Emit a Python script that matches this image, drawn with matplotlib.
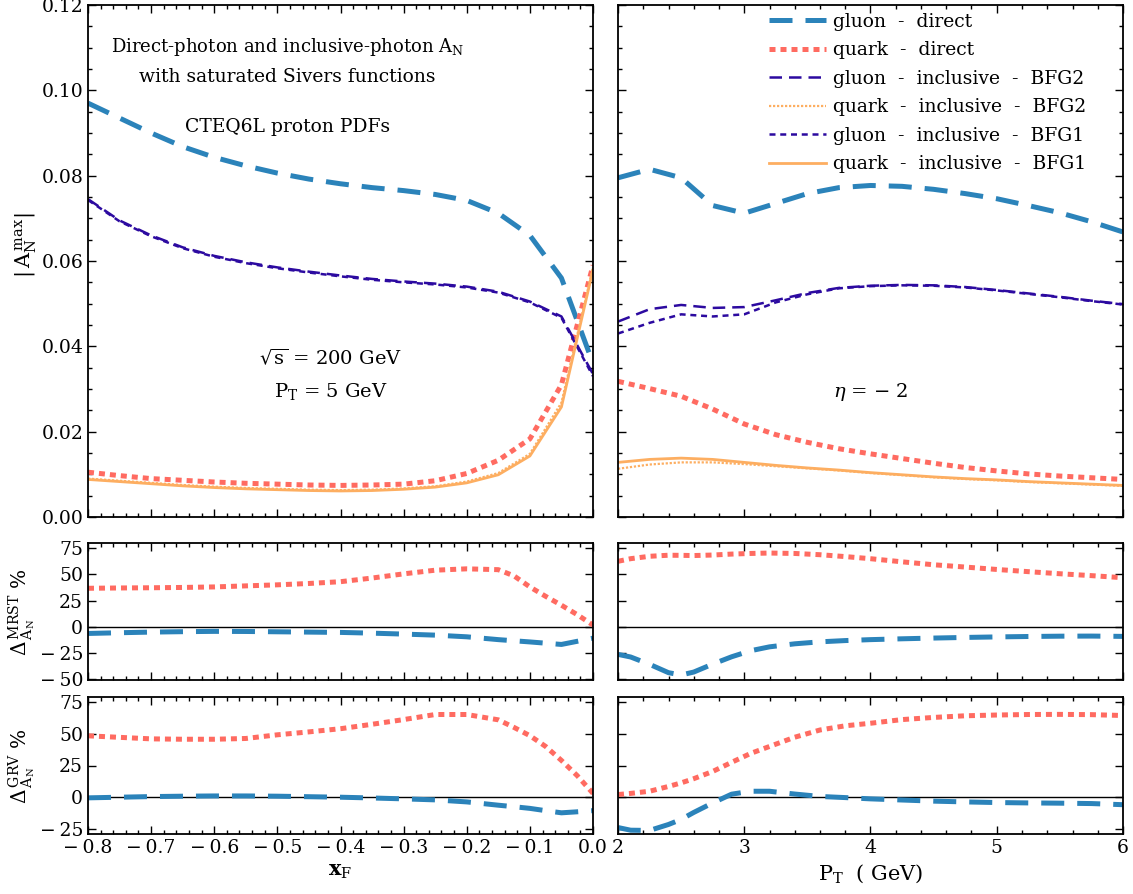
import numpy as np
import matplotlib
matplotlib.use("Agg")
import matplotlib.pyplot as plt
from matplotlib.ticker import MultipleLocator, FuncFormatter

plt.rcParams['font.family'] = ['DejaVu Serif']
plt.rcParams['mathtext.fontset'] = 'dejavuserif'
plt.rcParams['font.size'] = 13

# colours
c_gdir = '#2b83ba'
c_qdir = '#ff6b61'
c_ginc = '#2c0aa0'
c_qinc = '#fdae61'

# ---- top panels: |A_N^max| ----
xf = [-0.8, -0.75, -0.7, -0.65, -0.6, -0.55, -0.5, -0.45, -0.4, -0.35,
      -0.3, -0.25, -0.2, -0.15, -0.1, -0.05, 0.0]
xf_gluon_direct = [0.097, 0.0935, 0.0900, 0.0868, 0.0843, 0.0823, 0.0806, 0.0792, 0.0781, 0.0772,
                   0.0765, 0.0756, 0.0742, 0.0712, 0.0660, 0.0560, 0.0360]
xf_quark_direct = [0.0105, 0.0097, 0.0090, 0.0086, 0.0082, 0.0079, 0.0077, 0.0075, 0.0074, 0.0075,
                   0.0077, 0.0085, 0.0102, 0.0133, 0.0183, 0.0310, 0.0590]
xf_gluon_bfg2 = [0.0745, 0.0695, 0.0660, 0.0632, 0.0612, 0.0597, 0.0585, 0.0575, 0.0566, 0.0558,
                 0.0552, 0.0547, 0.0540, 0.0528, 0.0505, 0.0470, 0.0335]
xf_gluon_bfg1 = [0.0743, 0.0693, 0.0658, 0.0630, 0.0610, 0.0595, 0.0583, 0.0573, 0.0564, 0.0556,
                 0.0550, 0.0545, 0.0538, 0.0526, 0.0503, 0.0467, 0.0330]
xf_quark_bfg2 = [0.0090, 0.0085, 0.0080, 0.0075, 0.0071, 0.0068, 0.0066, 0.0064, 0.0063, 0.0064,
                 0.0067, 0.0072, 0.0083, 0.0103, 0.0148, 0.0268, 0.0585]
xf_quark_bfg1 = [0.0088, 0.0083, 0.0078, 0.0073, 0.0069, 0.0066, 0.0064, 0.0062, 0.0061, 0.0062,
                 0.0065, 0.0070, 0.0080, 0.0099, 0.0143, 0.0258, 0.0580]

pt = [2.0, 2.25, 2.5, 2.75, 3.0, 3.25, 3.5, 3.75, 4.0, 4.25, 4.5, 4.75, 5.0, 5.25, 5.5, 5.75, 6.0]
pt_gluon_direct = [0.0795, 0.0815, 0.0795, 0.0730, 0.0712, 0.0735, 0.0758, 0.0772, 0.0777, 0.0775,
                   0.0768, 0.0758, 0.0746, 0.0730, 0.0713, 0.0692, 0.0668]
pt_quark_direct = [0.0318, 0.0301, 0.0283, 0.0253, 0.0218, 0.0193, 0.0175, 0.0160, 0.0148, 0.0137,
                   0.0126, 0.0116, 0.0108, 0.0101, 0.0096, 0.0092, 0.0088]
pt_gluon_bfg2 = [0.0458, 0.0487, 0.0497, 0.0490, 0.0492, 0.0508, 0.0525, 0.0537, 0.0542, 0.0544,
                 0.0543, 0.0539, 0.0532, 0.0524, 0.0516, 0.0507, 0.0499]
pt_gluon_bfg1 = [0.0430, 0.0455, 0.0475, 0.0470, 0.0475, 0.0503, 0.0522, 0.0536, 0.0541, 0.0543,
                 0.0542, 0.0538, 0.0531, 0.0523, 0.0515, 0.0506, 0.0498]
pt_quark_bfg2 = [0.0113, 0.0123, 0.0128, 0.0128, 0.0124, 0.0119, 0.0114, 0.0109, 0.0103, 0.0098,
                 0.0093, 0.0089, 0.0086, 0.0082, 0.0079, 0.0076, 0.0073]
pt_quark_bfg1 = [0.0128, 0.0135, 0.0138, 0.0135, 0.0128, 0.0121, 0.0115, 0.0110, 0.0104, 0.0099,
                 0.0094, 0.0090, 0.0087, 0.0083, 0.0080, 0.0077, 0.0074]

# ---- ratio panels (%) ----
xf_d = [-0.8, -0.75, -0.7, -0.65, -0.6, -0.55, -0.5, -0.45, -0.4, -0.35, -0.3, -0.25, -0.2,
        -0.15, -0.125, -0.1, -0.075, -0.05, -0.025, 0.0]
mrst_quark_xf = [36.7, 37.0, 37.2, 37.5, 38.0, 39.0, 40.0, 41.3, 43.0, 46.5, 50.5, 54.0, 55.3,
                 54.5, 48.5, 38.0, 29.0, 20.5, 11.5, 1.5]
mrst_gluon_xf = [-6.5, -5.8, -5.2, -4.8, -4.5, -4.6, -4.9, -5.2, -5.5, -6.2, -7.1, -8.1, -9.7,
                 -12.4, -13.5, -14.6, -15.8, -17.0, -14.0, -11.0]
grv_quark_xf = [48.4, 47.2, 46.0, 45.7, 45.7, 46.3, 49.2, 51.5, 54.0, 57.5, 61.2, 65.2, 65.2,
                61.0, 55.0, 48.5, 40.0, 29.0, 17.0, 3.0]
grv_gluon_xf = [-0.5, 0.0, 0.5, 0.8, 1.0, 1.0, 0.8, 0.4, 0.0, -0.6, -1.3, -2.1, -3.7,
                -6.3, -7.5, -8.8, -10.6, -12.3, -11.5, -10.6]

pt_d = [2.0, 2.1, 2.25, 2.4, 2.5, 2.6, 2.75, 2.9, 3.05, 3.2, 3.4, 3.6, 3.8, 4.0, 4.25, 4.5,
        4.75, 5.0, 5.25, 5.5, 5.75, 6.0]
mrst_quark_pt = [62.5, 65.0, 67.3, 68.3, 68.2, 68.0, 68.5, 69.4, 70.0, 70.4, 70.0, 68.8, 67.0,
                 65.0, 62.0, 59.2, 57.0, 54.7, 52.6, 50.6, 48.8, 46.8]
mrst_gluon_pt = [-26.5, -29.0, -36.0, -44.0, -46.2, -43.4, -35.8, -28.8, -23.0, -19.3, -16.4,
                 -14.5, -13.3, -12.4, -11.6, -10.9, -10.3, -9.8, -9.4, -9.1, -9.0, -9.3]
grv_quark_pt = [2.1, 3.0, 4.7, 8.5, 11.3, 14.6, 20.3, 27.5, 34.5, 40.0, 47.3, 53.0, 56.3,
                58.3, 61.2, 62.9, 64.2, 64.8, 65.2, 65.3, 65.1, 64.4]
grv_gluon_pt = [-23.9, -26.0, -26.2, -21.5, -17.5, -12.0, -4.5, 2.4, 4.7, 4.7, 2.5, 0.6, -0.3,
                -1.3, -2.2, -3.1, -3.7, -4.2, -4.5, -4.7, -5.0, -5.9]

# line styles
st_gdir = dict(color=c_gdir, lw=3.6, dashes=(4.6, 2.6))
st_qdir = dict(color=c_qdir, lw=3.6, dashes=(1.2, 1.0))
st_g2 = dict(color=c_ginc, lw=1.8, dashes=(5.0, 2.8))
st_q2 = dict(color=c_qinc, lw=1.6, dashes=(1.0, 0.8))
st_g1 = dict(color=c_ginc, lw=1.8, dashes=(2.4, 1.9))
st_q1 = dict(color=c_qinc, lw=2.0, linestyle='-')


def sfmt(fmt):
    def f(v, pos):
        if abs(v) < 1e-9:
            v = 0.0
        s = fmt % v
        return s.replace('-', '\u2212\u2009')
    return FuncFormatter(f)


def style(ax):
    ax.tick_params(which='both', direction='in', top=True, right=True, width=1.0)
    ax.tick_params(which='major', length=5.5, labelsize=13.5)
    ax.tick_params(which='minor', length=2.8)
    for s in ax.spines.values():
        s.set_linewidth(1.3)


W = 1133
H = 894
fig = plt.figure(figsize=(W / 100, H / 100), dpi=100)


def add(x0, y0, x1, y1):
    return fig.add_axes([x0 / W, 1 - y1 / H, (x1 - x0) / W, (y1 - y0) / H])


axL = add(88, 5, 593, 517)
axR = add(618, 5, 1123, 517)
axLm = add(88, 543, 593, 680)
axRm = add(618, 543, 1123, 680)
axLb = add(88, 697, 593, 834)
axRb = add(618, 697, 1123, 834)

# top left
axL.plot(xf, xf_gluon_direct, **st_gdir)
axL.plot(xf, xf_quark_direct, **st_qdir)
axL.plot(xf, xf_gluon_bfg2, **st_g2)
axL.plot(xf, xf_quark_bfg2, **st_q2)
axL.plot(xf, xf_gluon_bfg1, **st_g1)
axL.plot(xf, xf_quark_bfg1, **st_q1)

# top right
axR.plot(pt, pt_gluon_direct, label='gluon  -  direct', **st_gdir)
axR.plot(pt, pt_quark_direct, label='quark  -  direct', **st_qdir)
axR.plot(pt, pt_gluon_bfg2, label='gluon  -  inclusive  -  BFG2', **st_g2)
axR.plot(pt, pt_quark_bfg2, label='quark  -  inclusive  -  BFG2', **st_q2)
axR.plot(pt, pt_gluon_bfg1, label='gluon  -  inclusive  -  BFG1', **st_g1)
axR.plot(pt, pt_quark_bfg1, label='quark  -  inclusive  -  BFG1', **st_q1)

for ax in (axL, axR):
    ax.set_ylim(0, 0.12)
    ax.yaxis.set_major_locator(MultipleLocator(0.02))
    ax.yaxis.set_minor_locator(MultipleLocator(0.005))

for ax in (axL, axLm, axLb):
    ax.set_xlim(-0.8, 0.0)
    ax.xaxis.set_major_locator(MultipleLocator(0.1))
    ax.xaxis.set_minor_locator(MultipleLocator(0.02))
for ax in (axR, axRm, axRb):
    ax.set_xlim(2, 6)
    ax.xaxis.set_major_locator(MultipleLocator(1))
    ax.xaxis.set_minor_locator(MultipleLocator(0.2))

axLm.plot(xf_d, mrst_quark_xf, **st_qdir)
axLm.plot(xf_d, mrst_gluon_xf, **st_gdir)
axRm.plot(pt_d, mrst_quark_pt, **st_qdir)
axRm.plot(pt_d, mrst_gluon_pt, **st_gdir)
axLb.plot(xf_d, grv_quark_xf, **st_qdir)
axLb.plot(xf_d, grv_gluon_xf, **st_gdir)
axRb.plot(pt_d, grv_quark_pt, **st_qdir)
axRb.plot(pt_d, grv_gluon_pt, **st_gdir)

for ax in (axLm, axRm):
    ax.set_ylim(-51, 80)
    ax.yaxis.set_major_locator(MultipleLocator(25))
for ax in (axLb, axRb):
    ax.set_ylim(-29, 79)
    ax.yaxis.set_major_locator(MultipleLocator(25))
for ax in (axLm, axRm, axLb, axRb):
    ax.axhline(0, color='black', lw=1.0, zorder=1)

for ax in (axL, axR, axLm, axRm, axLb, axRb):
    style(ax)

for ax in (axL, axR, axLm, axRm):
    ax.tick_params(labelbottom=False)
for ax in (axR, axRm, axRb):
    ax.tick_params(labelleft=False)

axL.yaxis.set_major_formatter(sfmt('%.2f'))
axLm.yaxis.set_major_formatter(sfmt('%d'))
axLb.yaxis.set_major_formatter(sfmt('%d'))
axLb.xaxis.set_major_formatter(sfmt('%.1f'))
axRb.xaxis.set_major_formatter(sfmt('%d'))

# annotations
axL.text(0.395, 0.918, r'Direct-photon and inclusive-photon $\mathrm{A}_\mathrm{N}$',
         transform=axL.transAxes, ha='center', va='center', fontsize=13)
axL.text(0.395, 0.859, 'with saturated Sivers functions',
         transform=axL.transAxes, ha='center', va='center', fontsize=13.5)
axL.text(0.395, 0.762, 'CTEQ6L proton PDFs',
         transform=axL.transAxes, ha='center', va='center', fontsize=13.5)
axL.text(0.48, 0.31, r'$\sqrt{\mathrm{s}}$ = 200 GeV',
         transform=axL.transAxes, ha='center', va='center', fontsize=14)
axL.text(0.48, 0.246, r'$\mathrm{P}_\mathrm{T}$ = 5 GeV',
         transform=axL.transAxes, ha='center', va='center', fontsize=14)
axR.text(0.5, 0.244, r'$\eta$ = $-$ 2',
         transform=axR.transAxes, ha='center', va='center', fontsize=14)

leg = axR.legend(loc='upper left', bbox_to_anchor=(0.30, 0.985), frameon=False,
                 handlelength=3.0, handletextpad=0.4, labelspacing=0.56,
                 borderpad=0, borderaxespad=0, fontsize=13.5)

fig.text(25 / W, 1 - 245 / H, r'$|\,\mathrm{A}_\mathrm{N}^{\,\mathrm{max}}|$',
         rotation=90, ha='center', va='center', fontsize=15)
fig.text(22 / W, 1 - 612 / H, r'$\Delta_{\,\mathrm{A}_\mathrm{N}}^{\,\mathrm{MRST}}\ \%$',
         rotation=90, ha='center', va='center', fontsize=14.5)
fig.text(22 / W, 1 - 766 / H, r'$\Delta_{\,\mathrm{A}_\mathrm{N}}^{\,\mathrm{GRV}}\ \%$',
         rotation=90, ha='center', va='center', fontsize=14.5)

axLb.set_xlabel(r'$\mathbf{x}_\mathrm{F}$', fontsize=15, labelpad=4)
axRb.set_xlabel(r'$\mathrm{P}_\mathrm{T}$  ( GeV)', fontsize=15, labelpad=4)

fig.savefig('out.png', dpi=100)
